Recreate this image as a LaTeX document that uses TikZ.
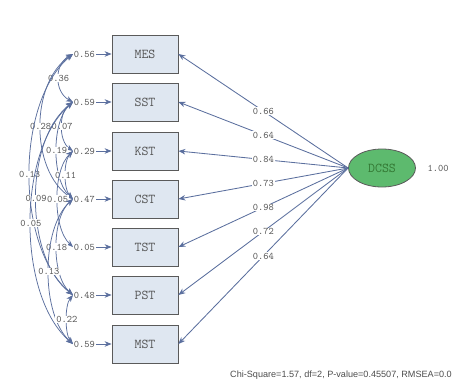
\documentclass[tikz,border=0pt]{standalone}
\usepackage{fontspec}
\setmainfont{Liberation Serif}
\newfontfamily\sansf{Liberation Sans}
\usetikzlibrary{shapes.geometric,arrows.meta}
\definecolor{boxfill}{HTML}{DFE7F1}
\definecolor{boxline}{HTML}{5A5A5A}
\definecolor{latfill}{HTML}{5DBA6E}
\definecolor{arr}{HTML}{5B6F9E}
\definecolor{txt}{HTML}{555555}
\tikzset{
  obs/.style={draw=boxline, fill=boxfill, line width=0.8pt, minimum width=66pt, minimum height=38pt, inner sep=0pt, font=\ttfamily\fontsize{13.5}{14}\selectfont, text=txt},
  lat/.style={ellipse, draw=boxline, fill=latfill, line width=0.8pt, minimum width=67pt, minimum height=38pt, inner sep=0pt, font=\ttfamily\fontsize{13.5}{14}\selectfont, text=black!55!green!60!gray},
  num/.style={font=\ttfamily\fontsize{10}{11}\selectfont, text=txt, inner sep=0.8pt},
  lbl/.style={num, fill=white},
  tip/.style={-{Stealth[length=7pt,width=5.5pt]}},
  path/.style={draw=arr, line width=0.85pt, tip},
  cov/.style={draw=arr, line width=0.75pt, {Stealth[length=7pt,width=5.5pt]}-{Stealth[length=7pt,width=5.5pt]}}
}
\begin{document}
\begin{tikzpicture}[x=1pt,y=-1pt]
\useasboundingbox (0,0) rectangle (456,381);
% observed variables
\node[obs] (m1) at (145,54) {MES};
\node[obs] (m2) at (145,102) {SST};
\node[obs] (m3) at (145,151) {KST};
\node[obs] (m4) at (145,199) {CST};
\node[obs] (m5) at (145,247) {TST};
\node[obs] (m6) at (145,295) {PST};
\node[obs] (m7) at (145,344) {MST};
% error variances
\node[num] (e1) at (84.5,54) {0.56};
\node[num] (e2) at (84.5,102) {0.59};
\node[num] (e3) at (84.5,151) {0.29};
\node[num] (e4) at (84.5,199) {0.47};
\node[num] (e5) at (84.5,247) {0.05};
\node[num] (e6) at (84.5,295) {0.48};
\node[num] (e7) at (84.5,344) {0.59};
\foreach \i in {1,...,7} \draw[path] (e\i.east) -- (m\i.west);
% latent
\node[lat] (d) at (382,168) {DCSS};
\node[num] (dv) at (438,168) {1.00};
% loadings
\draw[path] (d.west) -- node[lbl,pos=0.5]{0.66} (m1.east);
\draw[path] (d.west) -- node[lbl,pos=0.5]{0.64} (m2.east);
\draw[path] (d.west) -- node[lbl,pos=0.5]{0.84} (m3.east);
\draw[path] (d.west) -- node[lbl,pos=0.5]{0.73} (m4.east);
\draw[path] (d.west) -- node[lbl,pos=0.5]{0.98} (m5.east);
\draw[path] (d.west) -- node[lbl,pos=0.5]{0.72} (m6.east);
\draw[path] (d.west) -- node[lbl,pos=0.5]{0.64} (m7.east);
% error covariances
\draw[cov] (e1.west) .. controls (54,64) and (54,92) .. node[lbl]{0.36} (e2.west);
\draw[cov] (e2.west) .. controls (58.5,112) and (58.5,141) .. node[lbl]{0.07} (e3.west);
\draw[cov] (e1.west) .. controls (30,83) and (30,170) .. node[lbl]{0.28} (e4.west);
\draw[cov] (e2.west) .. controls (51.3,121) and (51.3,180) .. node[lbl]{0.19} (e4.west);
\draw[cov] (e1.west) .. controls (15.3,102) and (15.3,247) .. node[lbl]{0.13} (e6.west);
\draw[cov] (e3.west) .. controls (63.3,161) and (63.3,189) .. node[lbl]{0.11} (e4.west);
\draw[cov] (e2.west) .. controls (24,140) and (24,257) .. node[lbl]{0.09} (e6.west);
\draw[cov] (e3.west) .. controls (52.5,170) and (52.5,228) .. node[lbl]{0.05} (e5.west);
\draw[cov] (e2.west) .. controls (16.7,150) and (16.7,296) .. node[lbl]{0.05} (e7.west);
\draw[cov] (e4.west) .. controls (51.3,218) and (51.3,276) .. node[lbl]{0.18} (e6.west);
\draw[cov] (e4.west) .. controls (40.7,228) and (40.7,315) .. node[lbl]{0.13} (e7.west);
\draw[cov] (e6.west) .. controls (64.7,305) and (64.7,334) .. node[lbl]{0.22} (e7.west);
% fit statistics
\node[font=\sansf\fontsize{9.1}{10}\selectfont, text=black!70, anchor=west, inner sep=0pt] (fit) at (230,375) {Chi-Square=1.57, df=2, P-value=0.45507, RMSEA=0.0};
\end{tikzpicture}
\end{document}
